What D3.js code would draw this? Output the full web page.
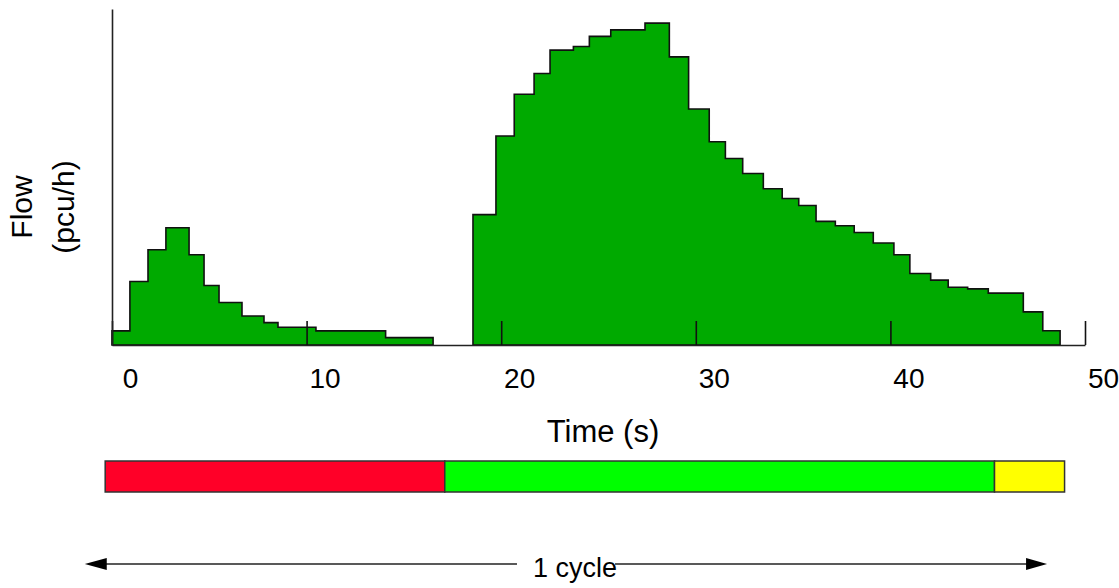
<!DOCTYPE html>
<html>
<head>
<meta charset="utf-8">
<script src="https://cdn.jsdelivr.net/npm/d3@7"></script>
<style>
  body { margin: 0; background: #fff; }
  text { font-family: "Liberation Sans", Arial, sans-serif; fill: #000; }
</style>
</head>
<body>
<div id="chart"></div>
<script>
// size
var chart_width = 1119;
var chart_height = 588;

// first platoon: bin edges (s) and flow (pcu/h)
var time1 = [0, 0.92, 1.85, 2.77, 3.96, 4.73, 5.5, 6.68, 7.81, 8.53, 10.48, 14.06, 16.5];
var flow1 = [84, 378, 567, 698, 537, 354, 253, 173, 133, 106, 84, 44];

// second platoon (green period)
var time2 = [18.55, 19.73, 20.67, 21.69, 22.51, 23.71, 24.53, 25.63, 27.39, 28.64,
             29.63, 30.69, 31.52, 32.41, 33.47, 34.44, 35.29, 36.18, 37.17, 38.14,
             39.12, 40.18, 41.0, 42.07, 42.97, 43.97, 45.03, 46.83, 47.83, 48.72];
var flow2 = [776, 1244, 1493, 1616, 1755, 1777, 1837, 1876, 1916, 1715,
             1405, 1210, 1110, 1021, 930, 872, 830, 736, 710, 670,
             607, 537, 426, 386, 344, 334, 309, 197, 85];

var xTicks = [0, 10, 20, 30, 40, 50];

// signal phases (s)
var phases = ['red', 'green', 'amber'];
var phaseStart = [-0.35, 17.1, 45.35];
var phaseEnd = [17.1, 45.35, 48.95];

// cycle arrow (s)
var cycleFrom = -1.4;
var cycleTo = 48.05;

var phaseColor = { red: '#ff0028', green: '#00ff00', amber: '#ffff00' };

var x = d3.scaleLinear().domain([0, 50]).range([112, 1085]);
var y = d3.scaleLinear().domain([0, 2000]).range([345, 9]);

var svg = d3.select('#chart')
            .append('svg')
            .attr('width', chart_width)
            .attr('height', chart_height);

// histogram as step areas
var area = d3.area()
    .curve(d3.curveStepAfter)
    .x(function(d){ return x(d[0]); })
    .y0(y(0))
    .y1(function(d){ return y(d[1]); });

function steps(t, f){
    var pts = f.map(function(v, i){ return [t[i], v]; });
    pts.push([t[t.length - 1], f[f.length - 1]]);
    return pts;
}

[[time1, flow1], [time2, flow2]].forEach(function(g){
    svg.append('path')
        .attr('d', area(steps(g[0], g[1])))
        .attr('fill', '#00aa00')
        .attr('stroke', '#111')
        .attr('stroke-width', 1.6);
});

// x axis, ticks pointing inwards
var xAxis = svg.append('g')
    .attr('transform', 'translate(0,' + y(0) + ')')
    .call(d3.axisBottom(x).tickValues(xTicks).tickSize(-24).tickSizeOuter(0));
xAxis.select('.domain').attr('stroke', '#222').attr('stroke-width', 1.6);
xAxis.selectAll('.tick line').attr('stroke', '#111').attr('stroke-width', 1.6);
xAxis.selectAll('.tick text')
    .attr('y', 43)
    .attr('dy', 0)
    .attr('dx', 18)
    .style('font-family', '"Liberation Sans", Arial, sans-serif')
    .style('font-size', '28px')
    .attr('fill', '#000');

// y axis (no ticks)
var yAxis = svg.append('g')
    .attr('transform', 'translate(' + x(0) + ',0)')
    .call(d3.axisLeft(y).tickValues([]).tickSizeOuter(0));
yAxis.select('.domain').attr('stroke', '#222').attr('stroke-width', 1.6);

// axis titles
svg.append('text')
    .attr('x', 603)
    .attr('y', 442)
    .attr('text-anchor', 'middle')
    .style('font-size', '31px')
    .text('Time (s)');

var yTitle = svg.append('g').attr('transform', 'translate(0,207) rotate(-90)');
yTitle.append('text')
    .attr('x', 0).attr('y', 32)
    .attr('text-anchor', 'middle')
    .style('font-size', '30px')
    .text('Flow');
yTitle.append('text')
    .attr('x', 0).attr('y', 74)
    .attr('text-anchor', 'middle')
    .style('font-size', '30px')
    .text('(pcu/h)');

// signal timing bar
svg.selectAll('rect.phase')
    .data(phases)
    .enter()
    .append('rect')
    .attr('class', 'phase')
    .attr('x', function(d, i){ return x(phaseStart[i]); })
    .attr('width', function(d, i){ return x(phaseEnd[i]) - x(phaseStart[i]); })
    .attr('y', 461)
    .attr('height', 31)
    .attr('fill', function(d){ return phaseColor[d]; })
    .attr('stroke', '#333')
    .attr('stroke-width', 1.5);

// cycle arrow
var ay = 564;
var label = svg.append('text')
    .attr('x', 575)
    .attr('y', 577)
    .attr('text-anchor', 'middle')
    .style('font-size', '27px')
    .text('1 cycle');
var bb = label.node().getBBox();

var x0 = x(cycleFrom), x1 = x(cycleTo);
svg.append('line')
    .attr('x1', x0 + 20).attr('x2', bb.x - 16)
    .attr('y1', ay).attr('y2', ay)
    .attr('stroke', '#222').attr('stroke-width', 1.6);
svg.append('line')
    .attr('x1', bb.x + bb.width - 2).attr('x2', x1 - 18)
    .attr('y1', ay).attr('y2', ay)
    .attr('stroke', '#222').attr('stroke-width', 1.6);
svg.append('path')
    .attr('d', 'M' + x0 + ',' + ay + 'L' + (x0 + 22) + ',' + (ay - 6) + 'L' + (x0 + 22) + ',' + (ay + 6) + 'Z')
    .attr('fill', '#000');
svg.append('path')
    .attr('d', 'M' + x1 + ',' + ay + 'L' + (x1 - 21) + ',' + (ay - 6) + 'L' + (x1 - 21) + ',' + (ay + 6) + 'Z')
    .attr('fill', '#000');
</script>
</body>
</html>
